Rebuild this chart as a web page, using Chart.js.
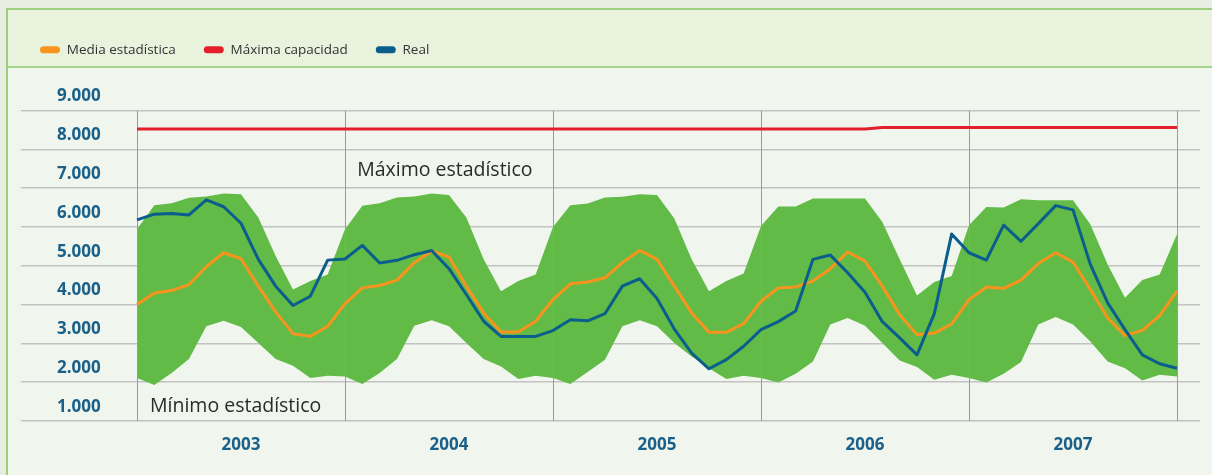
<!DOCTYPE html>
<html>
<head>
<meta charset="utf-8">
<script src="https://cdn.jsdelivr.net/npm/chart.js@4.4.1/dist/chart.umd.min.js"></script>
<style>
  html, body { margin: 0; padding: 0; }
  body { width: 1212px; height: 475px; overflow: hidden; background: #e7eee1; position: relative; }
  .frame { position: absolute; left: 6px; top: 8px; width: 1230px; height: 490px;
           border-left: 2px solid #9dd07d; border-top: 2px solid #9dd07d; background: #f0f6ee; }
  .band { position: absolute; left: 0; top: 0; right: 0; height: 56px;
          background: #e8f2dd; border-bottom: 2px solid #a6d58b; }
  .wrap { position: absolute; left: 0; top: 0; width: 1212px; height: 475px; }
</style>
</head>
<body>
<div class="frame"><div class="band"></div></div>
<div class="wrap"><canvas id="embalse_chart"></canvas></div>
<script>
// 12 meses por año, 2003 -> enero 2008
const years = ['2003', '2004', '2005', '2006', '2007'];
const y_labels = ['1.000', '2.000', '3.000', '4.000', '5.000', '6.000', '7.000', '8.000', '9.000'];

const media = [4000, 4300, 4360, 4515, 4975, 5335, 5180, 4475, 3810, 3250, 3180, 3440,
    4025, 4430, 4490, 4630, 5080, 5380, 5225, 4475, 3785, 3295, 3295, 3570,
    4130, 4535, 4580, 4690, 5080, 5395, 5165, 4475, 3785, 3285, 3285, 3510,
    4085, 4430, 4455, 4605, 4925, 5355, 5120, 4475, 3740, 3225, 3265, 3500,
    4130, 4450, 4415, 4630, 5060, 5335, 5095, 4390, 3655, 3200, 3335, 3715, 4345];

const capacidad = [8525, 8525, 8525, 8525, 8525, 8525, 8525, 8525, 8525, 8525, 8525, 8525,
    8525, 8525, 8525, 8525, 8525, 8525, 8525, 8525, 8525, 8525, 8525, 8525,
    8525, 8525, 8525, 8525, 8525, 8525, 8525, 8525, 8525, 8525, 8525, 8525,
    8525, 8525, 8525, 8525, 8525, 8525, 8525, 8560, 8560, 8560, 8560, 8560,
    8560, 8560, 8560, 8560, 8560, 8560, 8560, 8560, 8560, 8560, 8560, 8560, 8560];

const real = [6180, 6330, 6345, 6310, 6700, 6520, 6095, 5165, 4475, 3975, 4215, 5145,
    5175, 5525, 5070, 5140, 5285, 5395, 4925, 4260, 3570, 3180, 3180, 3180,
    3330, 3610, 3580, 3765, 4475, 4665, 4155, 3370, 2750, 2345, 2580, 2925,
    3355, 3560, 3835, 5165, 5275, 4820, 4320, 3560, 3140, 2705, 3765, 5820,
    5335, 5145, 6045, 5630, 6085, 6550, 6440, 5035, 4045, 3355, 2705, 2475, 2360];

const maximo = [5940, 6560, 6610, 6750, 6785, 6860, 6845, 6240, 5250, 4390, 4605, 4775,
    5940, 6545, 6610, 6760, 6785, 6860, 6820, 6240, 5165, 4345, 4605, 4775,
    6000, 6560, 6605, 6760, 6775, 6845, 6820, 6215, 5165, 4345, 4605, 4800,
    6025, 6525, 6525, 6735, 6735, 6735, 6735, 6130, 5165, 4235, 4580, 4735,
    6045, 6515, 6500, 6715, 6690, 6690, 6690, 6070, 5035, 4175, 4630, 4775, 5810];

const minimo = [2105, 1930, 2235, 2595, 3440, 3585, 3425, 3010, 2595, 2425, 2105, 2165,
    2145, 1955, 2235, 2595, 3455, 3595, 3440, 3010, 2595, 2405, 2080, 2165,
    2105, 1955, 2260, 2580, 3440, 3595, 3440, 3010, 2665, 2360, 2080, 2165,
    2105, 1990, 2215, 2535, 3485, 3655, 3455, 3010, 2560, 2390, 2060, 2190,
    2105, 1990, 2215, 2520, 3485, 3680, 3485, 3050, 2535, 2360, 2045, 2190, 2145];

const BLUE_TEXT = '#1b6089';
const to_points = arr => arr.map((v, i) => ({x: i, y: v}));

Chart.defaults.font.family = "'Open Sans', sans-serif";
Chart.defaults.color = '#333';

// lineas verticales de año: encima de la banda verde, debajo de las series
const year_lines = {
    id: 'year_lines',
    beforeDatasetDraw(chart, args) {
        if (args.index !== 0) return;
        const {ctx, chartArea} = chart;
        const x = chart.scales.x;
        ctx.save();
        ctx.strokeStyle = '#9b9b9b';
        ctx.lineWidth = 1;
        for (let k = 0; k <= years.length; k++) {
            const px = Math.round(x.getPixelForValue(k * 12)) + 0.5;
            ctx.beginPath();
            ctx.moveTo(px, chartArea.top);
            ctx.lineTo(px, chartArea.bottom);
            ctx.stroke();
        }
        ctx.restore();
    }
};

const band_notes = {
    id: 'band_notes',
    afterDatasetsDraw(chart) {
        const {ctx} = chart;
        const x = chart.scales.x, y = chart.scales.y;
        ctx.save();
        ctx.fillStyle = '#2a2a2a';
        ctx.font = "19.5px 'Open Sans'";
        ctx.textBaseline = 'alphabetic';
        ctx.fillText('Máximo estadístico', x.getPixelForValue(12.7), y.getPixelForValue(7320));
        ctx.fillText('Mínimo estadístico', x.getPixelForValue(0.75), y.getPixelForValue(1235));
        ctx.restore();
    }
};

const canvas = document.querySelector('#embalse_chart');
new Chart(canvas.getContext('2d'), {
    type: 'line',
    data: {
        datasets: [
            {label: 'Media estadística', data: to_points(media), borderColor: '#f7941d', backgroundColor: '#f7941d', borderWidth: 3, order: 3},
            {label: 'Máxima capacidad', data: to_points(capacidad), borderColor: '#e2202c', backgroundColor: '#e2202c', borderWidth: 3, order: 2},
            {label: 'Real', data: to_points(real), borderColor: '#0a5d8c', backgroundColor: '#0a5d8c', borderWidth: 3, order: 1},
            {label: 'Máximo estadístico', data: to_points(maximo), borderColor: 'rgba(0,0,0,0)', borderWidth: 0, backgroundColor: '#62bb47', fill: '+1', order: 4},
            {label: 'Mínimo estadístico', data: to_points(minimo), borderColor: 'rgba(0,0,0,0)', borderWidth: 0, backgroundColor: '#62bb47', fill: false, order: 5}
        ]
    },
    options: {
        responsive: true,
        maintainAspectRatio: false,
        animation: false,
        layout: {padding: {left: 12, right: 12, top: 15, bottom: 5.6}},
        elements: {
            point: {radius: 0, hoverRadius: 0},
            line: {tension: 0, borderJoinStyle: 'round'}
        },
        plugins: {
            tooltip: {enabled: false},
            legend: {
                position: 'top',
                align: 'start',
                labels: {
                    boxWidth: 20,
                    boxHeight: 7,
                    useBorderRadius: true,
                    borderRadius: 3.5,
                    padding: 28,
                    color: '#333',
                    font: {size: 13.5},
                    sort: (a, b) => a.datasetIndex - b.datasetIndex,
                    generateLabels: chart => Chart.defaults.plugins.legend.labels.generateLabels(chart)
                        .filter(item => item.datasetIndex < 3)
                        .map(item => Object.assign(item, {lineWidth: 0}))
                }
            }
        },
        scales: {
            x: {
                type: 'linear',
                min: -6.692,
                max: 61.327,
                grid: {display: false, drawTicks: false},
                border: {display: false},
                afterBuildTicks: axis => { axis.ticks = years.map((yr, k) => ({value: k * 12 + 6})); },
                ticks: {
                    padding: 14,
                    color: BLUE_TEXT,
                    font: {size: 17, weight: 'bold'},
                    maxRotation: 0,
                    autoSkip: false,
                    callback: value => years[(value - 6) / 12]
                }
            },
            gap: {
                type: 'linear',
                position: 'top',
                display: true,
                grid: {display: false},
                border: {display: false},
                ticks: {display: false},
                afterFit: axis => { axis.height = 44; }
            },
            y: {
                min: 1000,
                max: 9000,
                border: {display: false},
                grid: {color: '#c2c2c2', lineWidth: 1.5, drawTicks: false},
                afterFit: axis => { axis.width = 9; },
                ticks: {
                    stepSize: 1000,
                    mirror: true,
                    padding: 36,
                    labelOffset: -14,
                    color: BLUE_TEXT,
                    font: {size: 17, weight: 'bold'},
                    callback: (value, index) => y_labels[index]
                }
            }
        }
    },
    plugins: [year_lines, band_notes]
});
</script>
</body>
</html>
